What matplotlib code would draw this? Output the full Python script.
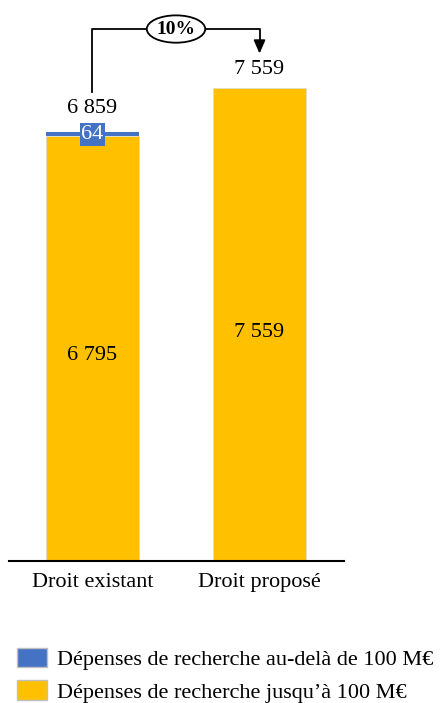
import matplotlib.pyplot as plt
from matplotlib.patches import Patch

plt.rcParams['font.family'] = ['Liberation Serif', 'DejaVu Serif']

# données
categories = ['Droit existant', 'Droit proposé']
jusqua_100 = [6795, 7559]
audela_100 = [64, 0]
totaux = [6859, 7559]
variation = '10%'

bleu = '#4472C4'
jaune = '#FFC000'

fig = plt.figure(figsize=(4.48, 7.03), dpi=100)
ax = fig.add_axes([0.020, 0.202, 0.748, 0.798])

x = range(len(categories))
ax.bar(x, jusqua_100, width=0.557, color=jaune, edgecolor='#d9d9d9', linewidth=0.5)
ax.bar(x, audela_100, width=0.557, bottom=jusqua_100, color=bleu)

ax.set_xlim(-0.5, 1.506)
ax.set_ylim(0, 8966)

# valeurs dans les barres
for i, v in enumerate(jusqua_100):
    ax.text(i, v / 2 - 120, f'{v:,}'.replace(',', ' '), ha='center', va='center', fontsize=16)

# étiquette 64
ax.text(0, jusqua_100[0] + audela_100[0] / 2 - 10, str(audela_100[0]), ha='center', va='center',
        fontsize=16, color='white',
        bbox=dict(boxstyle='square,pad=0.08', fc=bleu, ec='none'))

# totaux au-dessus
ax.text(0, totaux[0] + 380, f'{totaux[0]:,}'.replace(',', ' '), ha='center', va='center', fontsize=16)
ax.text(1, totaux[1] + 290, f'{totaux[1]:,}'.replace(',', ' '), ha='center', va='center', fontsize=16)

# flèche de variation
y_haut = 8502
ax.plot([0, 0, 1, 1], [totaux[0] + 640, y_haut, y_haut, 8280], color='black', lw=1.3, clip_on=False)
ax.annotate('', xy=(1, 8110), xytext=(1, 8290),
            arrowprops=dict(arrowstyle='-|>,head_width=0.35,head_length=0.8', color='black', lw=1.3,
                            shrinkA=0, shrinkB=0),
            annotation_clip=False)
ax.text(0.5, y_haut, variation, ha='center', va='center', fontsize=14, fontweight='bold',
        bbox=dict(boxstyle='ellipse,pad=0.06', fc='white', ec='black', lw=1.3))

for s in ['top', 'right', 'left']:
    ax.spines[s].set_visible(False)
ax.spines['bottom'].set_linewidth(1.5)
ax.set_yticks([])
ax.set_xticks(list(x))
ax.set_xticklabels(categories, fontsize=16)
ax.tick_params(axis='x', length=0, pad=9)

handles = [Patch(facecolor=bleu, edgecolor='#bfbfbf', label='Dépenses de recherche au-delà de 100 M€'),
           Patch(facecolor=jaune, edgecolor='#bfbfbf', label='Dépenses de recherche jusqu’à 100 M€')]
fig.legend(handles=handles, loc='upper left', bbox_to_anchor=(0.038, 0.078), frameon=False,
           fontsize=16, handlelength=1.35, handleheight=0.95, handletextpad=0.45,
           labelspacing=0.45, borderpad=0, borderaxespad=0)

fig.savefig('out.png', dpi=100)
